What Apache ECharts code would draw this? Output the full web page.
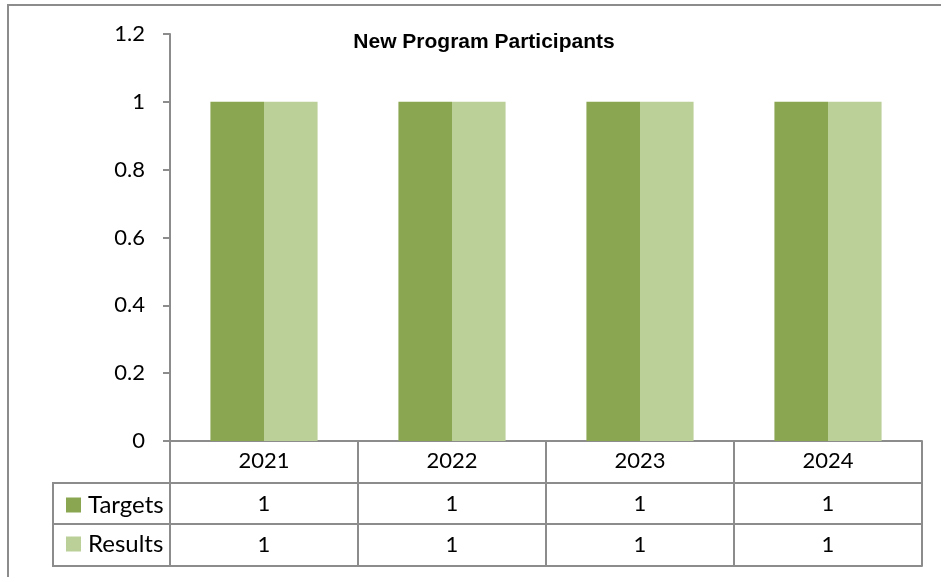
<!DOCTYPE html>
<html>
<head>
<meta charset="utf-8">
<script src="https://cdn.jsdelivr.net/npm/echarts@6/dist/echarts.min.js"></script>
<style>
  html, body { margin: 0; padding: 0; background: #fff; }
  #chart { width: 941px; height: 577px; }
</style>
</head>
<body>
<div id="chart"></div>
<script>
const years = ['2021', '2022', '2023', '2024']
const targets = [1, 1, 1, 1]
const results = [1, 1, 1, 1]
const yTicks = { min: 0, max: 1.2, step: 0.2 }

const DARK = '#8AA650'
const LIGHT = '#BBCF98'
const LINE = '#8c8c8c'
const FONT = 'Lato, "Open Sans", sans-serif'

const chart = echarts.init(document.getElementById('chart'))

// a row of the data table is just another bottom category axis, shifted down
function tableRow(offset, values) {
  return {
    type: 'category', data: years, position: 'bottom', offset,
    axisLine: { show: true, lineStyle: { color: LINE, width: 2 } },
    axisTick: { show: false },
    axisLabel: {
      show: !!values, margin: 10, color: '#000', fontSize: 22, fontFamily: FONT,
      formatter: (v, i) => values ? String(values[i]) : ''
    }
  }
}

chart.setOption({
  animation: false,
  title: {
    text: 'New Program Participants',
    left: 479, top: 27, textAlign: 'center',
    textStyle: { fontFamily: 'Arial, "Liberation Sans", sans-serif', fontSize: 21, fontWeight: 'bold', color: '#000' }
  },
  grid: { left: 170, right: 19, top: 34, bottom: 136, containLabel: false },
  xAxis: [
    {
      type: 'category', data: years, position: 'bottom',
      axisLine: { lineStyle: { color: LINE, width: 2 } },
      axisTick: { show: true, inside: false, length: 125, lineStyle: { color: LINE, width: 2 } },
      axisLabel: { margin: 9, color: '#000', fontSize: 22, fontFamily: FONT }
    },
    tableRow(42, targets),
    tableRow(83, results),
    tableRow(125, null)
  ],
  yAxis: {
    type: 'value', min: yTicks.min, max: yTicks.max, interval: yTicks.step,
    axisLine: { show: true, lineStyle: { color: LINE, width: 2 } },
    axisTick: { show: true, length: 7, lineStyle: { color: LINE, width: 2 } },
    splitLine: { show: false },
    axisLabel: {
      margin: 25, color: '#000', fontSize: 22, fontFamily: FONT,
      formatter: (v) => String(+v.toFixed(1))
    }
  },
  legend: {
    orient: 'vertical', left: 61, top: 488, itemGap: 15,
    icon: 'rect', itemWidth: 15, itemHeight: 15,
    textStyle: { color: '#000', fontSize: 24, fontFamily: FONT, padding: [0, 0, 0, 2] },
    data: ['Targets', 'Results']
  },
  series: [
    { name: 'Targets', type: 'bar', data: targets, itemStyle: { color: DARK }, barGap: '0%', barCategoryGap: '43%' },
    { name: 'Results', type: 'bar', data: results, itemStyle: { color: LIGHT }, barGap: '0%', barCategoryGap: '43%' }
  ],
  graphic: [
    // outer chart frame (its right and bottom edges fall outside the image)
    { type: 'rect', shape: { x: 8, y: 5, width: 1000, height: 700 }, style: { fill: null, stroke: LINE, lineWidth: 2 }, silent: true },
    // legend-key column of the data table
    { type: 'polyline', shape: { points: [[170, 483], [53, 483], [53, 566], [170, 566]] }, style: { fill: null, stroke: LINE, lineWidth: 2 } },
    { type: 'line', shape: { x1: 53, y1: 524, x2: 170, y2: 524 }, style: { stroke: LINE, lineWidth: 2 } }
  ]
})
</script>
</body>
</html>
